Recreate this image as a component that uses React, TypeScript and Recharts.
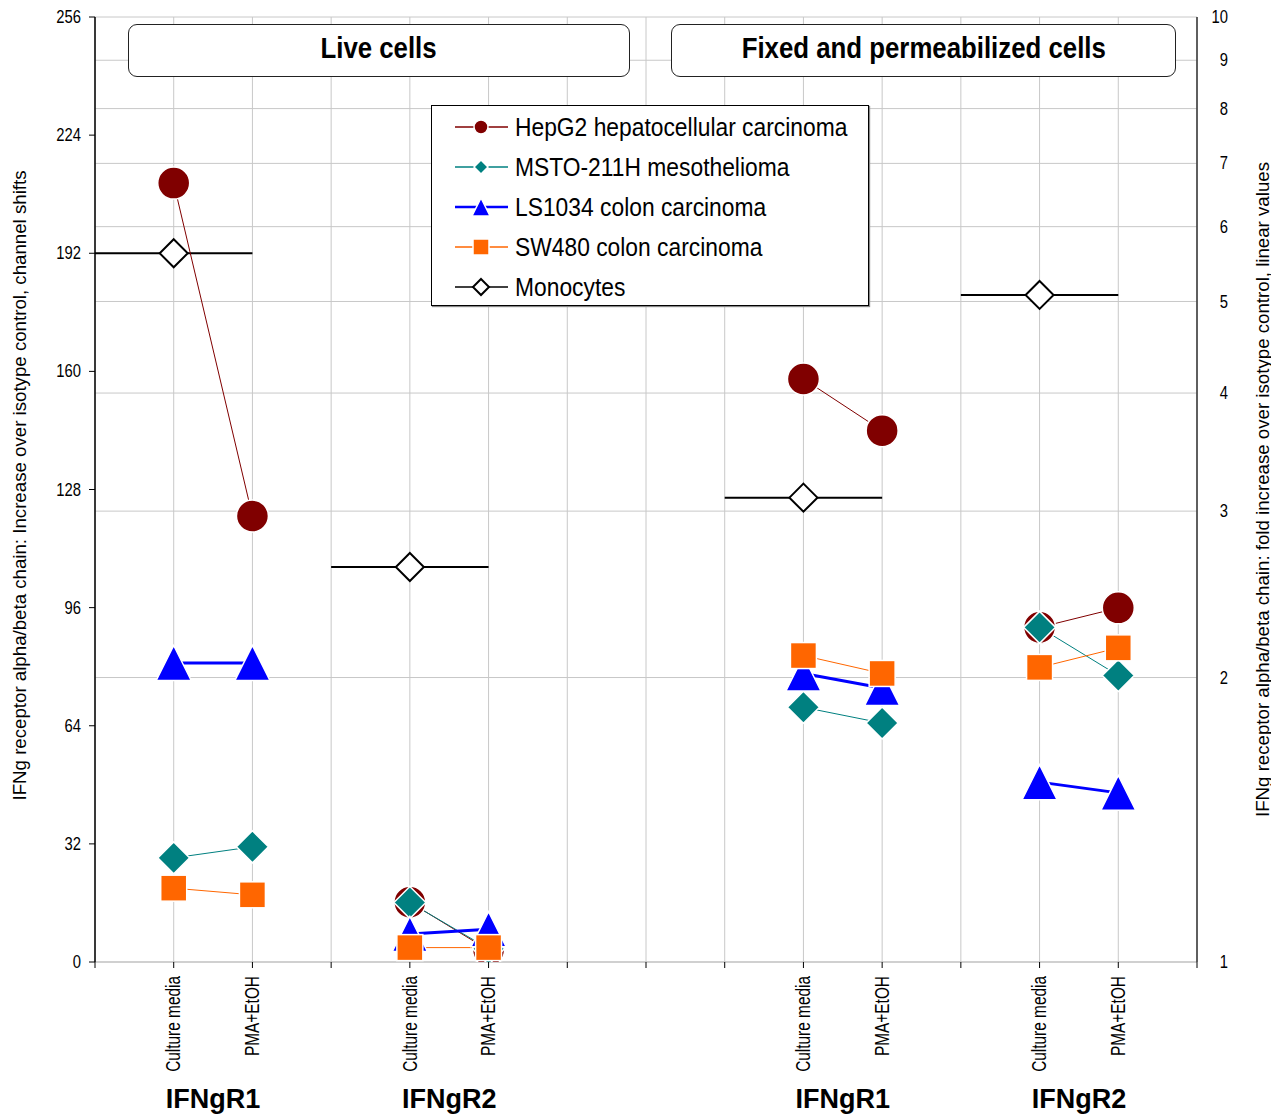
import React from "react";
import { LineChart, Line, XAxis, YAxis, CartesianGrid, Legend } from "recharts";

const panels = ["Live cells", "Fixed and permeabilized cells"];
const receptors = ["IFNgR1", "IFNgR2"];
const conditions = ["Culture media", "PMA+EtOH"];

// category slots on the 0–14 grid: [R1 culture, R1 PMA, R2 culture, R2 PMA]
const liveSlots = [1, 2, 4, 5];
const fixedSlots = [9, 10, 12, 13];
const groupSlots = [1.5, 4.5, 9.5, 12.5];
const slotTicks = [0, 1, 2, 3, 4, 5, 6, 7, 8, 9, 10, 11, 12, 13, 14];

const leftTicks = [0, 32, 64, 96, 128, 160, 192, 224, 256];
const rightTicks = [1, 2, 3, 4, 5, 6, 7, 8, 9, 10];

// Live cells: channel shifts (left axis)
const hepg2Live = [211, 120.8, 16.2, 3.2];
const mstoLive = [28.2, 31.2, 16.1, 3.6];
const ls1034Live = [81, 81, 7.6, 8.9];
const sw480Live = [20.0, 18.2, 3.9, 3.9];
const monocytesLive = [192, 107];

// Fixed and permeabilized cells: fold increase (right log axis)
const hepg2Fixed = [4.14, 3.65, 2.26, 2.37];
const mstoFixed = [1.86, 1.79, 2.26, 2.01];
const ls1034Fixed = [2.02, 1.95, 1.55, 1.51];
const sw480Fixed = [2.11, 2.02, 2.05, 2.15];
const monocytesFixed = [3.1, 5.08];

const seriesNames = [
  "HepG2 hepatocellular carcinoma",
  "MSTO-211H mesothelioma",
  "LS1034 colon carcinoma",
  "SW480 colon carcinoma",
  "Monocytes",
];
const colors = ["#800000", "#008080", "#0000FF", "#FF6600", "#000000"];

// ---- build table ----
const rowMap = new Map<number, any>();
const rowAt = (x: number) => {
  let r = rowMap.get(x);
  if (!r) {
    r = { x };
    rowMap.set(x, r);
  }
  return r;
};
const put = (key: string, slots: number[], values: number[]) =>
  slots.forEach((s, i) => {
    rowAt(s)[key] = values[i];
  });
put("hepLive", liveSlots, hepg2Live);
put("mstoLive", liveSlots, mstoLive);
put("lsLive", liveSlots, ls1034Live);
put("swLive", liveSlots, sw480Live);
put("hepFixed", fixedSlots, hepg2Fixed);
put("mstoFixed", fixedSlots, mstoFixed);
put("lsFixed", fixedSlots, ls1034Fixed);
put("swFixed", fixedSlots, sw480Fixed);
const putMono = (key: string, slots: number[], values: number[]) =>
  values.forEach((v, r) => {
    const c = slots[2 * r];
    rowAt(c - 1)[key] = v;
    rowAt(c)[key] = v;
    rowAt(c + 1)[key] = v;
    rowAt(c + 1.5);
  });
putMono("monoLive", liveSlots, monocytesLive);
putMono("monoFixed", fixedSlots, monocytesFixed);
const data = Array.from(rowMap.values()).sort((a, b) => a.x - b.x);

const cultureSlots = [liveSlots[0], liveSlots[2], fixedSlots[0], fixedSlots[2]];
const slotLabel = (v: number) => {
  const all = [...liveSlots, ...fixedSlots];
  const i = all.indexOf(v);
  return i < 0 ? "" : conditions[i % 2];
};

const BASE = "'Liberation Sans', Arial, sans-serif";
const X_MAIN = "a";
const X_GROUP = "b";

type Kind = "circle" | "diamond" | "triangle" | "square" | "hollow";
const Marker = ({ kind, cx, cy, fill, s }: { kind: Kind; cx: number; cy: number; fill: string; s: number }) => {
  if (kind === "circle") return <circle cx={cx} cy={cy} r={s} fill={fill} stroke="#fff" strokeWidth={1.5} />;
  if (kind === "diamond")
    return (
      <polygon
        points={`${cx},${cy - s} ${cx + s},${cy} ${cx},${cy + s} ${cx - s},${cy}`}
        fill={fill}
        stroke="#fff"
        strokeWidth={1.5}
      />
    );
  if (kind === "triangle")
    return (
      <polygon
        points={`${cx},${cy - s} ${cx + s},${cy + s} ${cx - s},${cy + s}`}
        fill={fill}
        stroke="#fff"
        strokeWidth={1.5}
      />
    );
  if (kind === "square")
    return <rect x={cx - s} y={cy - s} width={2 * s} height={2 * s} fill={fill} stroke="#fff" strokeWidth={1.5} />;
  return (
    <polygon
      points={`${cx},${cy - s} ${cx + s},${cy} ${cx},${cy + s} ${cx - s},${cy}`}
      fill="#fff"
      stroke="#000"
      strokeWidth={2}
    />
  );
};

const dotFor = (kind: Kind, fill: string, s: number, only?: number[]) => (p: any) => {
  const { cx, cy, value, index, payload } = p;
  if (cx == null || cy == null || value == null || isNaN(cy) || (only && !only.includes(payload.x)))
    return <g key={`e${index}`} />;
  return (
    <g key={`d${index}`}>
      <Marker kind={kind} cx={cx} cy={cy} fill={fill} s={s} />
    </g>
  );
};

const kinds: Kind[] = ["circle", "diamond", "triangle", "square", "hollow"];
const sizes = [16, 16, 17.5, 13, 14];
const widths = [1, 1, 3, 1, 2];

// condensed text helper
const SText = ({
  x,
  y,
  sx = 1,
  rot = 0,
  anchor = "middle",
  base = "central",
  size,
  bold = false,
  children,
}: any) => (
  <text
    transform={`translate(${x} ${y}) rotate(${rot}) scale(${sx} 1)`}
    textAnchor={anchor}
    dominantBaseline={base}
    fontSize={size}
    fontWeight={bold ? "bold" : "normal"}
    fill="#000"
    fontFamily={BASE}
  >
    {children}
  </text>
);

const XTick = (p: any) => {
  const { x, y, payload } = p;
  const label = slotLabel(payload.value);
  if (!label) return <g />;
  return (
    <SText x={x} y={y} rot={-90} sx={0.79} anchor="end" size={19.5}>
      {label}
    </SText>
  );
};

const GroupTick = (p: any) => {
  const { x, y, payload } = p;
  const i = groupSlots.indexOf(payload.value);
  return (
    <SText x={x} y={y + 31} anchor="middle" base="auto" size={27} bold>
      {receptors[i % 2]}
    </SText>
  );
};

const LeftTick = (p: any) => {
  const { x, y, payload } = p;
  return (
    <SText x={x} y={y} anchor="end" sx={0.8} size={18.5}>
      {payload.value}
    </SText>
  );
};

const RightTick = (p: any) => {
  const { x, y, payload } = p;
  return (
    <SText x={x + 31} y={y} anchor="end" sx={0.8} size={18.5}>
      {payload.value}
    </SText>
  );
};

const leftTitle = "IFNg receptor alpha/beta chain: Increase over isotype control, channel shifts";
const rightTitle = "IFNg receptor alpha/beta chain: fold increase over isotype control, linear values";

const AxisTitle = ({ cx, cy, text, len }: any) => (
  <text
    x={cx}
    y={cy}
    transform={`rotate(-90 ${cx} ${cy})`}
    textAnchor="middle"
    dominantBaseline="central"
    fontSize={17.5}
    fill="#000"
    fontFamily={BASE}
    textLength={len}
    lengthAdjust="spacingAndGlyphs"
  >
    {text}
  </text>
);

const LegendBox = () => (
  <div
    style={{
      width: 438,
      height: 201,
      boxSizing: "border-box",
      border: "1px solid #000",
      background: "#fff",
      position: "relative",
      boxShadow: "1px 1px 1px #888",
      fontFamily: BASE,
    }}
  >
    {seriesNames.map((n, i) => (
      <div key={n} style={{ position: "absolute", left: 0, top: 21 + 40 * i - 14, height: 28, width: 436 }}>
        <svg width={56} height={28} style={{ position: "absolute", left: 23, top: 0 }}>
          <line x1={0} x2={53} y1={14} y2={14} stroke={colors[i]} strokeWidth={i === 2 ? 2.5 : 1.3} />
          <Marker kind={kinds[i]} cx={26} cy={14} fill={colors[i]} s={[7, 7, 9, 8, 8][i]} />
        </svg>
        <span
          style={{
            position: "absolute",
            left: 83,
            top: 0,
            lineHeight: "28px",
            fontSize: 25.5,
            color: "#000",
            whiteSpace: "nowrap",
            transform: "scaleX(0.895)",
            transformOrigin: "left center",
          }}
        >
          {n}
        </span>
      </div>
    ))}
  </div>
);

const headerStyle = (left: number, width: number): React.CSSProperties => ({
  position: "absolute",
  left,
  top: 16,
  width,
  height: 53,
  boxSizing: "border-box",
  border: "1px solid #222",
  borderRadius: 9,
  background: "#fff",
  display: "flex",
  alignItems: "center",
  justifyContent: "center",
  fontFamily: BASE,
  fontWeight: "bold",
  fontSize: 30,
  color: "#000",
  paddingBottom: 6,
});

export default function App() {
  const series = [
    ["hepLive", "hepFixed"],
    ["mstoLive", "mstoFixed"],
    ["lsLive", "lsFixed"],
    ["swLive", "swFixed"],
  ];
  return (
    <div style={{ position: "relative", width: 1271, height: 1110, fontFamily: BASE }}>
      <LineChart width={1271} height={1110} data={data} margin={{ top: 9, right: 0, left: 0, bottom: 0 }}>
        <CartesianGrid xAxisId={X_MAIN} yAxisId="right" stroke="#c8c8c8" strokeWidth={1} />
        <XAxis
          xAxisId={X_MAIN}
          type="number"
          dataKey="x"
          domain={[0, 14]}
          ticks={slotTicks}
          interval={0}
          allowDataOverflow
          height={115}
          tickSize={6}
          tickMargin={8}
          axisLine={{ stroke: "#bdbdbd" }}
          tickLine={{ stroke: "#000" }}
          tick={<XTick />}
        />
        <XAxis
          xAxisId={X_GROUP}
          type="number"
          dataKey="x"
          domain={[0, 14]}
          ticks={groupSlots}
          interval={0}
          allowDataOverflow
          height={41}
          tickSize={0}
          tickMargin={0}
          axisLine={false}
          tickLine={false}
          tick={<GroupTick />}
        />
        <YAxis
          yAxisId="left"
          orientation="left"
          type="number"
          domain={[0, 256]}
          ticks={leftTicks}
          interval={0}
          allowDataOverflow
          width={87}
          tickSize={6}
          tickMargin={8}
          axisLine={{ stroke: "#000", strokeWidth: 1.5 }}
          tickLine={{ stroke: "#000" }}
          tick={<LeftTick />}
          label={{
            content: (props: any) => {
              const vb = props.viewBox || { x: 0, y: 9, width: 87, height: 945 };
              return <AxisTitle cx={vb.x + 12} cy={vb.y + vb.height / 2 - 4} text={leftTitle} len={630} />;
            },
          }}
        />
        <YAxis
          yAxisId="right"
          orientation="right"
          type="number"
          scale="log"
          domain={[1, 10]}
          ticks={rightTicks}
          interval={0}
          allowDataOverflow
          width={82}
          tickSize={0}
          tickMargin={0}
          axisLine={{ stroke: "#333", strokeWidth: 1.5 }}
          tickLine={false}
          tick={<RightTick />}
          label={{
            content: (props: any) => {
              const vb = props.viewBox || { x: 1189, y: 9, width: 82, height: 945 };
              return <AxisTitle cx={vb.x + 66} cy={vb.y + vb.height / 2} text={rightTitle} len={655} />;
            },
          }}
        />
        <Legend
          layout="horizontal"
          verticalAlign="middle"
          align="center"
          wrapperStyle={{ left: 423, top: 97, width: 438, height: 201 }}
          content={() => <LegendBox />}
        />
        <Line
          xAxisId={X_MAIN}
          yAxisId="left"
          dataKey="monoLive"
          name="Monocytes"
          stroke="#000"
          strokeWidth={2}
          dot={dotFor("hollow", "#fff", 14, cultureSlots)}
          activeDot={false}
          isAnimationActive={false}
        />
        <Line
          xAxisId={X_MAIN}
          yAxisId="right"
          dataKey="monoFixed"
          name="Monocytes fixed"
          stroke="#000"
          strokeWidth={2}
          dot={dotFor("hollow", "#fff", 14, cultureSlots)}
          activeDot={false}
          isAnimationActive={false}
        />
        {series.map(([live, fixed], i) => [
          <Line
            key={live}
            xAxisId={X_MAIN}
            yAxisId="left"
            dataKey={live}
            name={seriesNames[i]}
            stroke={colors[i]}
            strokeWidth={widths[i]}
            dot={dotFor(kinds[i], colors[i], sizes[i])}
            activeDot={false}
            isAnimationActive={false}
          />,
          <Line
            key={fixed}
            xAxisId={X_MAIN}
            yAxisId="right"
            dataKey={fixed}
            name={seriesNames[i] + " fixed"}
            stroke={colors[i]}
            strokeWidth={widths[i]}
            dot={dotFor(kinds[i], colors[i], sizes[i])}
            activeDot={false}
            isAnimationActive={false}
          />,
        ])}
      </LineChart>
      <div style={headerStyle(120, 502)}>
        <span style={{ display: "inline-block", transform: "scaleX(0.86)" }}>{panels[0]}</span>
      </div>
      <div style={headerStyle(663, 505)}>
        <span style={{ display: "inline-block", transform: "scaleX(0.86)", whiteSpace: "nowrap" }}>{panels[1]}</span>
      </div>
    </div>
  );
}
